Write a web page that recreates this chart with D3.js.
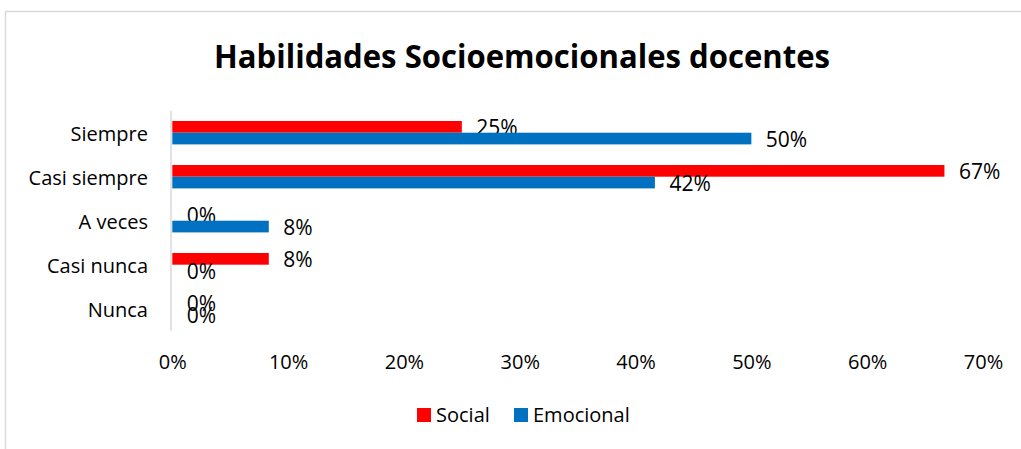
<!DOCTYPE html>
<html><head><meta charset="utf-8">
<script src="https://cdn.jsdelivr.net/npm/d3@7"></script>
<style>body{margin:0;background:#fff}svg{display:block}text{font-family:"Open Sans","Noto Sans",sans-serif}</style>
</head><body><svg id="c" width="1021" height="449"></svg>
<script>
const categories = ["Siempre","Casi siempre","A veces","Casi nunca","Nunca"];
const seriesNames = ["Social","Emocional"];
const social = [25, 66.67, 0, 8.33, 0];
const emocional = [50, 41.67, 8.33, 0, 0];
const labelsSocial = ["25%","67%","0%","8%","0%"];
const labelsEmocional = ["50%","42%","8%","0%","0%"];
const xTicks = [0,10,20,30,40,50,60,70];
const colors = ["#FF0000","#0070C0"];

const svg = d3.select("#c");
// frame
svg.append("path").attr("d","M5.5,449 V11.5 H1021").attr("fill","none").attr("stroke","#d9d9d9").attr("stroke-width",1.5);

svg.append("text").attr("x",522).attr("y",68).attr("text-anchor","middle")
  .attr("font-size",32.5).attr("font-weight","bold").attr("textLength",616).attr("lengthAdjust","spacingAndGlyphs")
  .text("Habilidades Socioemocionales docentes");

const x = d3.scaleLinear().domain([0,70]).range([172.3,983]);
const y = d3.scaleBand().domain(categories).range([110.7,330.7]);
const y1 = d3.scaleBand().domain(seriesNames).range([y.bandwidth()/2-11.7, y.bandwidth()/2+11.7]);

// axis line
svg.append("line").attr("x1",171).attr("x2",171).attr("y1",110.7).attr("y2",330.7).attr("stroke","#d9d9d9").attr("stroke-width",1.5);

const data = [social, emocional];
const labs = [labelsSocial, labelsEmocional];
data.forEach((vals,si)=>{
  const g = svg.append("g");
  g.selectAll("rect").data(categories).join("rect")
    .attr("x",x(0)).attr("y",c=>y(c)+y1(seriesNames[si]))
    .attr("width",(c,i)=>x(vals[i])-x(0)).attr("height",y1.bandwidth())
    .attr("fill",colors[si]);
  g.selectAll("text").data(categories).join("text")
    .attr("x",(c,i)=>x(vals[i])+14.5).attr("y",c=>y(c)+y1(seriesNames[si])+y1.bandwidth()/2+1)
    .attr("dy","0.35em").attr("font-size",21).attr("fill","#000")
    .text((c,i)=>labs[si][i]);
});

// y labels
svg.append("g").selectAll("text").data(categories).join("text")
  .attr("x",148).attr("y",c=>y(c)+y.bandwidth()/2+1.5).attr("dy","0.35em").attr("text-anchor","end")
  .attr("font-size",20).text(d=>d);

// x axis
const xa = svg.append("g").attr("transform","translate(0,362)")
  .call(d3.axisBottom(x).tickValues(xTicks).tickFormat(d=>d+"%").tickSize(0).tickPadding(0));
xa.select(".domain").remove();
xa.selectAll("text").attr("font-size",20).attr("font-family",'"Open Sans","Noto Sans",sans-serif').attr("fill","#000").attr("dy","0.35em");

// legend
const lg = svg.append("g");
const lx = [417, 514];
seriesNames.forEach((n,i)=>{
  lg.append("rect").attr("x",lx[i]).attr("y",408).attr("width",14).attr("height",14).attr("fill",colors[i]);
  lg.append("text").attr("x",lx[i]+19).attr("y",415).attr("dy","0.35em").attr("font-size",20).text(n);
});
</script></body></html>
